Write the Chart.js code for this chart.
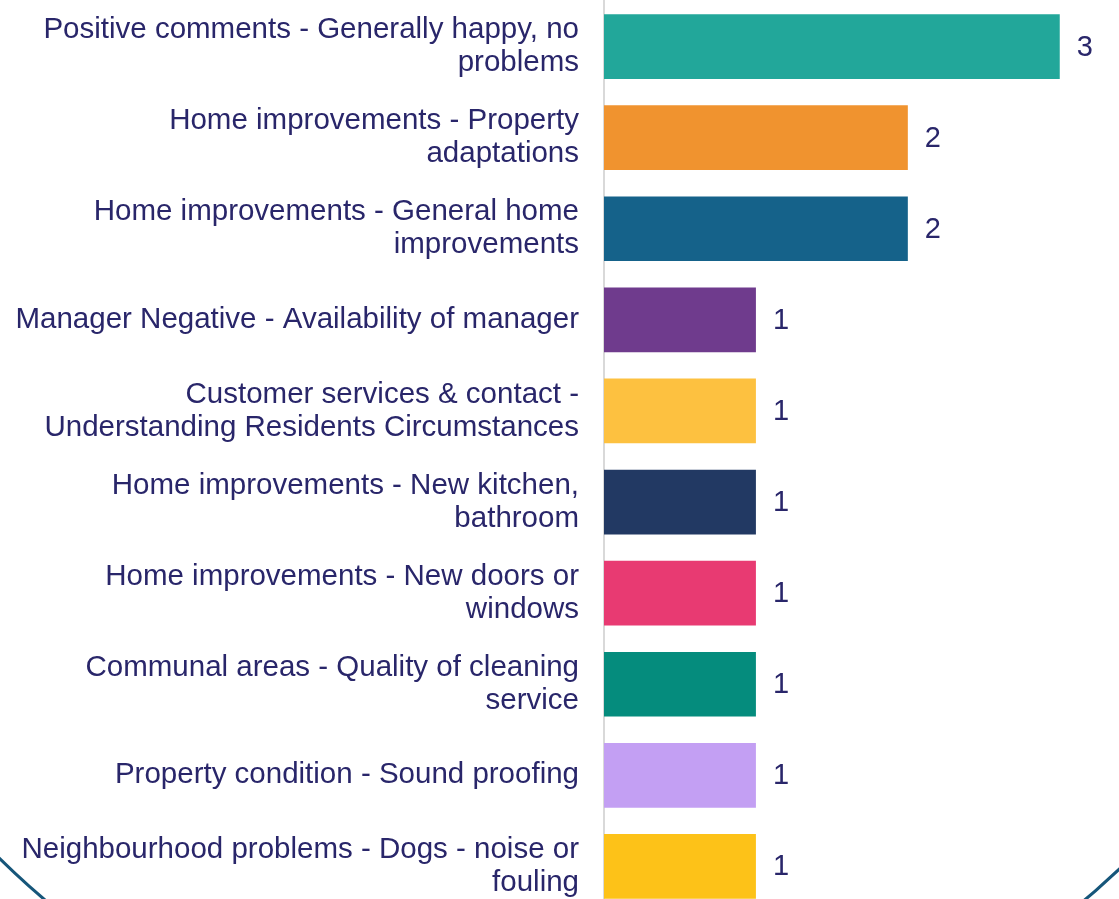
<!DOCTYPE html>
<html>
<head>
<meta charset="utf-8">
<script src="https://cdn.jsdelivr.net/npm/chart.js@4"></script>
<style>
  html, body { margin: 0; padding: 0; background: #fff; overflow: hidden; }
  #wrap { width: 1119px; height: 899px; overflow: hidden; position: relative; }
</style>
</head>
<body>
<div id="wrap"><canvas id="myChart" width="1119" height="912"></canvas></div>
<script>
const categories = [
    ['Positive comments - Generally happy, no', 'problems'],
    ['Home improvements - Property', 'adaptations'],
    ['Home improvements - General home', 'improvements'],
    'Manager Negative - Availability of manager',
    ['Customer services & contact -', 'Understanding Residents Circumstances'],
    ['Home improvements - New kitchen,', 'bathroom'],
    ['Home improvements - New doors or', 'windows'],
    ['Communal areas - Quality of cleaning', 'service'],
    'Property condition - Sound proofing',
    ['Neighbourhood problems - Dogs - noise or', 'fouling']
];
const counts = [3, 2, 2, 1, 1, 1, 1, 1, 1, 1];
const barColors = ['#22a79a', '#f0932f', '#15628a', '#6f3b8d', '#fdc140',
                   '#223963', '#e83a72', '#058c7d', '#c39ff3', '#fdc218'];

const textColor = '#29266a';

// big decorative circle outline behind the chart
const backdrop = {
    id: 'backdrop',
    beforeDraw(chart) {
        const c = chart.ctx;
        c.save();
        c.beginPath();
        c.arc(565, 284, 806, 0, Math.PI * 2);
        c.strokeStyle = '#16567a';
        c.lineWidth = 3;
        c.stroke();
        c.restore();
    }
};

// value numbers to the right of each bar
const valueLabels = {
    id: 'valueLabels',
    afterDatasetsDraw(chart) {
        const c = chart.ctx;
        const meta = chart.getDatasetMeta(0);
        c.save();
        c.font = '29px "Liberation Sans", Arial, sans-serif';
        c.fillStyle = textColor;
        c.textAlign = 'left';
        c.textBaseline = 'middle';
        meta.data.forEach((bar, i) => {
            c.fillText(String(counts[i]), bar.x + 17, bar.y + 1);
        });
        c.restore();
    }
};

const ctx = document.getElementById('myChart').getContext('2d');
const myChart = new Chart(ctx, {
    type: 'bar',
    data: {
        labels: categories,
        datasets: [{
            data: counts,
            backgroundColor: barColors,
            borderWidth: 0,
            categoryPercentage: 1,
            barPercentage: 0.71
        }]
    },
    options: {
        indexAxis: 'y',
        responsive: false,
        animation: false,
        devicePixelRatio: 1,
        layout: { padding: { top: 1 } },
        plugins: {
            legend: { display: false },
            tooltip: { enabled: false }
        },
        scales: {
            x: {
                display: false,
                min: 0,
                max: 3.39
            },
            y: {
                afterFit(scale) {
                    scale.width = 604;
                    scale.paddingTop = 0;
                    scale.paddingBottom = 0;
                },
                grid: { display: false, drawTicks: false },
                border: { display: true, color: '#d9d9d9', width: 2 },
                ticks: {
                    color: textColor,
                    padding: 25,
                    font: { family: '"Liberation Sans", Arial, sans-serif', size: 29.5, lineHeight: 1.12 }
                }
            }
        }
    },
    plugins: [backdrop, valueLabels]
});
</script>
</body>
</html>
